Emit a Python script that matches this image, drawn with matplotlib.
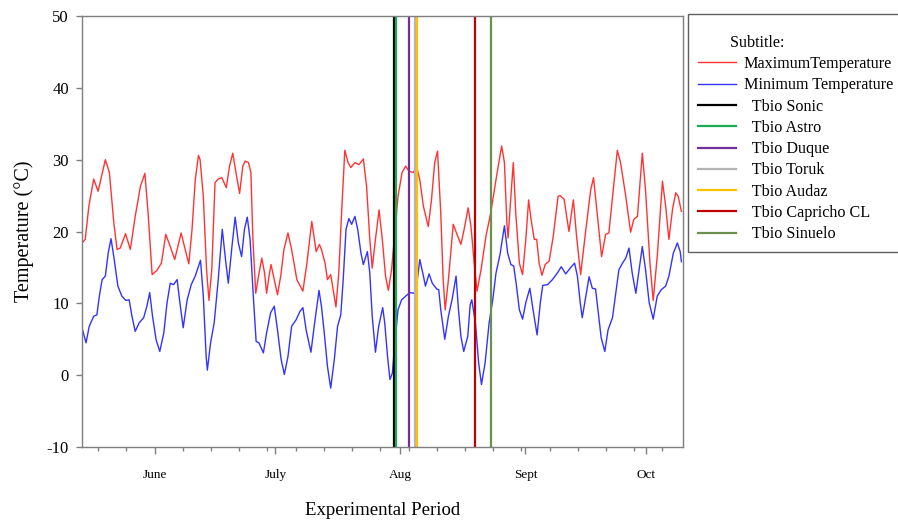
import matplotlib.pyplot as plt
import numpy as np
import pandas as pd

plt.rcParams['font.family'] = ['Liberation Serif', 'DejaVu Serif']
plt.rcParams['axes.unicode_minus'] = False

start = pd.Timestamp('2021-05-14')

# days counted from start
max_days = [0, 0.8, 1.7, 2.9, 4.0, 5.8, 6.8, 7.9, 8.7, 9.5, 10.8, 12.0, 13.2, 14.5, 15.6, 16.4,
            17.4, 18.6, 19.7, 20.8, 21.9, 23.0, 24.6, 25.6, 26.5, 27.3, 28.1, 28.9, 29.3, 30.1,
            30.9, 31.5, 32.2, 33.0, 33.8, 34.7, 35.8, 36.6, 37.4, 38.2, 39.1, 39.9, 40.5, 41.3,
            41.9, 42.4, 43.1, 43.8, 44.6, 45.3, 45.8, 46.4, 46.9, 47.7, 48.5, 49.3, 50.1, 51.1,
            52.0, 53.3, 54.8, 55.8, 57.0, 58.1, 58.9, 59.4, 60.3, 60.9, 61.7, 62.3, 63.0, 63.7,
            64.4, 65.2, 66.0, 66.7, 67.7, 68.7, 69.8, 70.6, 71.4, 72.0, 72.8, 73.7, 74.5, 75.3,
            76.0, 76.8, 77.6, 78.4, 79.4, 80.3, 81.1, 82.2, 83.0, 83.8, 84.7, 85.9, 86.7, 87.5,
            88.2, 89.0, 89.6, 90.1, 90.9, 92.1, 92.9, 94.0, 94.8, 95.8, 96.5, 97.3, 98.0, 99.0,
            100.2, 101.4, 102.7, 104.1, 104.8, 105.4, 105.7, 106.4, 107.0, 107.6, 108.5, 109.3,
            110.1, 110.8, 111.4, 112.2, 112.8, 113.4, 114.1, 114.9, 115.9, 116.9, 118.1, 118.6,
            119.6, 120.8, 121.9, 122.7, 123.7, 125.0, 126.2, 126.9, 127.7, 128.9, 129.9, 130.7,
            131.8, 132.8, 133.6, 134.9, 136.1, 136.9, 137.8, 139.0, 139.8, 140.9, 141.7, 142.7,
            144.0, 144.8, 145.6, 146.5, 147.3, 147.9, 148.7]
max_temp = [18.4, 18.9, 23.5, 27.3, 25.6, 30.0, 28.2, 21.2, 17.5, 17.7, 19.7, 17.5, 22.1, 26.3, 28.1, 22.6,
            14.0, 14.6, 15.6, 19.6, 17.9, 16.1, 19.8, 17.5, 15.5, 20.3, 27.2, 30.6, 30.0, 24.9,
            14.7, 10.4, 14.7, 26.8, 27.3, 27.5, 26.1, 29.1, 30.9, 28.2, 25.3, 29.1, 29.8, 29.6,
            28.2, 18.9, 11.4, 13.8, 16.3, 14.2, 11.4, 13.8, 15.4, 13.3, 11.2, 13.8, 17.5, 19.8,
            17.5, 13.3, 11.7, 15.6, 21.4, 17.2, 18.2, 17.5, 15.6, 13.3, 14.0, 11.9, 9.5, 14.2,
            22.6, 31.3, 29.6, 28.9, 29.6, 29.3, 30.1, 26.3, 18.9, 14.9, 18.9, 23.0, 18.9, 13.8,
            11.8, 14.7, 19.8, 24.9, 28.2, 29.1, 28.4, 28.2, 29.1, 27.2, 23.5, 20.7, 24.4, 29.6,
            31.2, 22.6, 13.3, 9.1, 13.3, 21.0, 19.8, 18.2, 20.3, 23.3, 20.7, 15.6, 11.7, 14.7,
            19.3, 22.6, 27.2, 31.9, 29.6, 21.2, 19.1, 24.9, 29.6, 22.6, 15.6, 14.0,
            18.9, 24.4, 21.7, 18.9, 18.9, 15.6, 13.9, 15.4, 15.9, 19.3, 24.9, 25.0,
            24.5, 20.0, 24.4, 19.3, 14.0, 20.3, 25.8, 27.5, 23.1, 16.5, 19.6, 19.8,
            25.8, 31.3, 29.6, 24.9, 19.9, 21.7, 22.1, 30.9, 25.8, 15.6, 10.4, 16.5,
            27.0, 23.5, 18.9, 23.1, 25.4, 24.9, 22.8]

min_days = [0, 1.0, 1.8, 2.9, 3.7, 4.3, 5.0, 5.8, 6.5, 7.2, 8.0, 8.9, 9.9, 10.9, 11.7, 12.4,
            13.2, 14.2, 15.3, 16.1, 16.8, 17.5, 18.4, 19.3, 20.3, 21.1, 21.9, 22.7, 23.6, 24.2,
            25.1, 26.1, 27.1, 28.1, 29.4, 30.1, 30.8, 31.1, 31.9, 32.8, 33.8, 34.8, 35.7, 36.3,
            37.2, 38.0, 38.8, 39.6, 40.3, 41.0, 41.7, 42.5, 43.2, 43.9, 45.0, 45.8, 46.8, 47.7,
            48.5, 49.4, 50.2, 51.1, 52.0, 53.1, 54.1, 54.8, 55.6, 56.8, 57.6, 58.8, 59.4, 60.1,
            60.9, 61.7, 62.6, 63.4, 64.2, 64.8, 65.5, 66.2, 66.9, 67.7, 68.4, 69.2, 69.8, 70.8,
            71.4, 72.0, 72.8, 73.6, 74.6, 75.1, 75.8, 76.4, 77.0, 77.6, 78.4, 79.3, 80.3, 81.3,
            82.4, 83.0, 83.8, 84.7, 85.2, 86.1, 86.9, 88.0, 88.5, 89.0, 90.0, 90.9, 91.8, 92.8,
            93.4, 94.0, 94.7, 95.7, 96.3, 96.7, 97.6, 98.4, 99.1, 100.0, 101.0, 101.9, 102.7,
            103.7, 104.8, 105.6, 106.4, 107.1, 107.7, 108.5, 109.3, 110.1, 111.1, 111.9, 112.9,
            113.7, 114.3, 115.5, 116.7, 117.9, 118.9, 120.0, 121.1, 122.2, 122.9, 123.6, 124.1,
            125.0, 125.8, 126.6, 127.4, 128.0, 128.8, 129.7, 130.5, 131.6, 132.4, 133.2, 134.1,
            134.9, 135.7, 136.5, 137.4, 138.2, 139.0, 139.8, 140.7, 141.7, 142.7, 143.7, 144.8,
            145.6, 146.7, 147.7, 148.4, 148.7]
min_temp = [6.6, 4.5, 6.8, 8.2, 8.4, 11.0, 13.3, 13.8, 17.0, 19.0, 16.1, 12.4, 11.0, 10.4, 10.5, 8.2,
            6.1, 7.3, 8.0, 9.6, 11.5, 8.2, 4.9, 3.3, 5.9, 10.1, 12.8, 12.6, 13.3, 10.5,
            6.6, 10.5, 12.6, 13.8, 16.0, 11.0, 2.6, 0.7, 4.5, 7.3, 13.3, 20.3, 15.6, 12.8,
            17.9, 22.0, 18.4, 16.5, 20.3, 22.0, 18.9, 11.0, 4.7, 4.5, 3.1, 5.9, 8.7, 9.6,
            6.3, 2.2, 0.1, 2.6, 6.8, 7.7, 8.9, 9.4, 6.3, 3.2, 6.8, 11.8, 9.6, 5.9,
            1.2, -1.8, 2.2, 6.8, 8.4, 13.3, 20.3, 21.8, 21.0, 22.1, 20.3, 17.0, 15.4, 17.2,
            14.2, 8.2, 3.2, 6.8, 9.4, 7.3, 2.6, -0.6, 0.3, 4.5, 9.1, 10.5, 11.0, 11.5,
            11.4, 12.4, 16.1, 13.8, 12.4, 14.1, 12.8, 12.0, 11.9, 9.1, 5.0, 8.2, 10.5, 13.8,
            9.1, 5.4, 3.3, 5.4, 9.8, 10.5, 7.3, 1.7, -1.3, 1.7, 7.3, 10.5, 14.2,
            16.8, 20.8, 17.0, 15.4, 15.2, 12.8, 9.1, 7.8, 10.1, 12.1, 9.1, 5.6,
            10.1, 12.5, 12.6, 13.3, 14.2, 15.1, 14.1, 14.9, 15.6, 13.8, 10.1, 8.0,
            11.0, 13.7, 12.1, 12.0, 9.1, 5.2, 3.3, 6.3, 8.0, 11.4, 14.7, 15.6,
            16.3, 17.7, 14.2, 11.4, 14.7, 17.9, 14.7, 10.1, 7.8, 11.0, 11.9, 12.4,
            13.8, 17.0, 18.4, 17.2, 15.8]

cultivars = ['Tbio Sonic', 'Tbio Astro', 'Tbio Duque', 'Tbio Toruk',
             'Tbio Audaz', 'Tbio Capricho CL', 'Tbio Sinuelo']
cultivar_days = [77.4, 77.9, 81.1, 82.6, 83.1, 97.4, 101.5]
cultivar_colors = ['#000000', '#1aaa55', '#7030a0', '#b4b4b4',
                   '#ffc000', '#c00000', '#6b8f4e']

month_names = ['June', 'July', 'Aug', 'Sept', 'Oct']
month_starts = ['2021-06-01', '2021-07-01', '2021-08-01', '2021-09-01', '2021-10-01']


def to_dates(days):
    return start + pd.to_timedelta(np.array(days), unit='D')


fig = plt.figure(figsize=(8.98, 5.21), dpi=100)
ax = fig.add_axes([0.0913, 0.142, 0.6693, 0.8273])

ax.plot(to_dates(max_days), max_temp, color='#ff3333', lw=1.0, label='MaximumTemperature')
ax.plot(to_dates(min_days), min_temp, color='#3333ff', lw=1.0, label='Minimum Temperature')
for name, d, c in zip(cultivars, cultivar_days, cultivar_colors):
    ax.axvline(to_dates([d])[0], color=c, lw=1.6, label='  ' + name)

ax.set_xlim(start, start + pd.Timedelta(days=149.1))
ax.set_ylim(-10, 50)
ax.set_yticks(range(-10, 51, 10))
ax.set_xticks(pd.to_datetime(month_starts))
ax.set_xticklabels(month_names)
ax.set_xticks(pd.date_range('2021-05-18', '2021-10-10', freq='7D'), minor=True)

for s in ax.spines.values():
    s.set_color('#7f7f7f')
    s.set_linewidth(1.0)
ax.tick_params(axis='y', colors='#7f7f7f', labelcolor='black', length=4.5, width=1,
               labelsize=12, pad=5)
ax.tick_params(axis='x', which='major', colors='#7f7f7f', labelcolor='black', length=5,
               width=1, labelsize=9.5, pad=11)
ax.tick_params(axis='x', which='minor', colors='#7f7f7f', length=3, width=1)

ax.set_ylabel('Temperature (°C)', fontsize=14.5, labelpad=9)
ax.set_xlabel('Experimental Period', fontsize=13.5, labelpad=15)

leg = ax.legend(loc='upper left', bbox_to_anchor=(688 / 898, 1 - 14 / 521),
                bbox_transform=fig.transFigure, borderaxespad=0, title='\n        Subtitle:',
                alignment='left', fontsize=11.6, title_fontsize=11.6, fancybox=False,
                edgecolor='#606060', framealpha=1, handlelength=2.35, handletextpad=0.5,
                labelspacing=0.33, borderpad=0.62)
leg.get_frame().set_linewidth(1.0)
leg.get_title().set_linespacing(0.55)

fig.savefig('out.png', dpi=100)
